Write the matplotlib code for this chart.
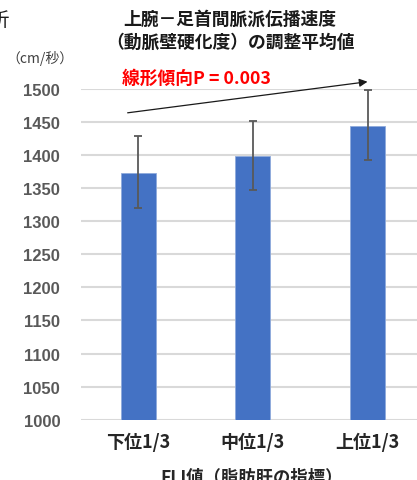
import matplotlib
matplotlib.use("Agg")
import matplotlib.pyplot as plt

plt.rcParams['font.family'] = ['Noto Sans CJK JP', 'DejaVu Sans']

categories = ["下位1/3", "中位1/3", "上位1/3"]
means = [1373, 1398, 1444]
err_low = [53, 50, 51]
err_high = [56, 53, 54]
yticks = [1000, 1050, 1100, 1150, 1200, 1250, 1300, 1350, 1400, 1450, 1500]

fig = plt.figure(figsize=(4.17, 4.81), dpi=100)
ax = fig.add_axes([81/417, 1 - 420.7/481, 343.8/417, 330.7/481])

x = list(range(len(categories)))
ax.bar(x, means, width=0.305, color="#4472c4", edgecolor="#8faadc", linewidth=0.6, zorder=3)
ax.errorbar(x, means, yerr=[err_low, err_high], fmt="none", ecolor="#595959",
            elinewidth=1.3, capsize=3, capthick=1.3, zorder=4)

ax.set_xlim(-0.5, 2.5)
ax.set_ylim(1000, 1500)
ax.set_yticks(yticks)
ax.set_yticklabels([str(v) for v in yticks], fontsize=12, fontweight="bold",
                   color="#595959", family=["Liberation Sans", "DejaVu Sans"])
ax.set_xticks(x)
ax.set_xticklabels(categories, fontsize=13, fontweight="bold", color="#262626")
ax.tick_params(axis="y", length=0, pad=15)
ax.tick_params(axis="x", length=0, pad=9)
ax.grid(axis="y", color="#d9d9d9", linewidth=1.5, zorder=0)
ax.set_axisbelow(True)
for s in ax.spines.values():
    s.set_visible(False)

# trend arrow
ax.annotate("", xy=(2.0, 1511), xytext=(-0.093, 1464),
            arrowprops=dict(arrowstyle="-|>", color="#1a1a1a", lw=0.9,
                            mutation_scale=12, shrinkA=0, shrinkB=0),
            annotation_clip=False)

fig.text(122/417, 1 - 79/481, "線形傾向P = 0.003", color="#ff0000", fontsize=12.8,
         fontweight="bold", ha="left", va="center")

fig.text(230/417, 1 - 20/481, "上腕－足首間脈派伝播速度", fontsize=12.8, fontweight="bold",
         ha="center", va="center", color="#1a1a1a")
fig.text(230/417, 1 - 43/481, "（動脈壁硬化度）の調整平均値", fontsize=12.8, fontweight="bold",
         ha="center", va="center", color="#1a1a1a")
fig.text(40/417, 1 - 58/481, "（cm/秒）", fontsize=10, ha="center", va="center", color="#404040")
fig.text(-11/417, 1 - 21/481, "析", fontsize=14, ha="left", va="center", color="#1a1a1a")

fig.text(252/417, 1 - 478/481, "FLI値（脂肪肝の指標）", fontsize=12.5, fontweight="bold",
         ha="center", va="center", color="#262626")

fig.savefig("out.png", dpi=100)
